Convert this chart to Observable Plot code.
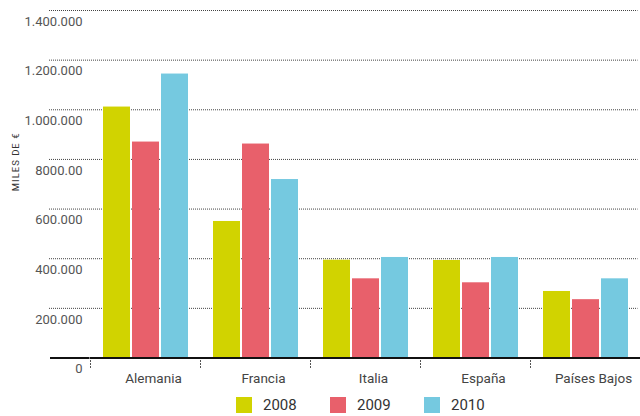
<!DOCTYPE html>
<html><head><meta charset="utf-8">
<script src="https://cdn.jsdelivr.net/npm/d3@7"></script>
<script src="https://cdn.jsdelivr.net/npm/@observablehq/plot@0.6"></script>
<style>
body{margin:0;background:#fff;font-family:Roboto,sans-serif;}
#legend{display:flex;padding:4px 0 0 236px;}
.item{display:inline-flex;align-items:center;width:94px;font-size:15px;color:#333;}
.sw{width:16px;height:16px;margin-right:11px;flex:none;}
.ylab{letter-spacing:1px;}
</style></head><body><div id="chart"></div><div id="legend"></div>
<script>
const countries = ["Alemania", "Francia", "Italia", "España", "Países Bajos"];
const years = ["2008", "2009", "2010"];
const v2008 = [1011000, 550000, 394000, 393000, 268000];
const v2009 = [870000, 862000, 319000, 303000, 235000];
const v2010 = [1144000, 719000, 405000, 405000, 319000];
const colors = ["#d1d300", "#e8606b", "#75c9e0"];
const yTicks = [0, 200000, 400000, 600000, 800000, 1000000, 1200000, 1400000];
const yTickLabels = ["0", "200.000", "400.000", "600.000", "8000.00", "1.000.000", "1.200.000", "1.400.000"];
const yLabel = "MILES DE €";

const series = [v2008, v2009, v2010];
const data = countries.flatMap((c, i) => years.map((y, j) => ({country: c, year: y, value: series[j][i]})));

const W = 640, H = 392, mL = 89, mR = -1.5, mT = 10, mB = 34.5;
const facetW = (W - mL - mR) / countries.length;
const gridL = 48, gridR = 637, baseL = 49;

const plot = Plot.plot({
  width: W, height: H,
  marginLeft: mL, marginRight: mR, marginTop: mT, marginBottom: mB,
  style: {fontFamily: "Roboto, sans-serif", background: "#fff", overflow: "visible"},
  fx: {domain: countries, padding: 0},
  x: {domain: years, paddingInner: 0.075, paddingOuter: 0.41, axis: null},
  y: {domain: [0, 1400000], axis: null},
  color: {domain: years, range: colors},
  marks: [
    Plot.ruleY(yTicks.filter(d => d > 0), {facetAnchor: "left", stroke: "#444", strokeDasharray: "1,1",
      insetLeft: gridL - mL, insetRight: mL + facetW - gridR}),
    Plot.barY(data, {fx: "country", x: "year", y: "value", fill: "year"}),
    Plot.ruleY([0], {stroke: "#111", strokeWidth: 2}),
    Plot.ruleY([0], {facetAnchor: "left", stroke: "#111", strokeWidth: 2, insetLeft: baseL - mL, insetRight: facetW}),
    Plot.frame({anchor: "left", stroke: "#555", strokeDasharray: "1,2", insetTop: 360 - mT, insetBottom: (H - mB) - 369}),
    Plot.axisY({ticks: yTicks, tickFormat: d => yTickLabels[yTicks.indexOf(d)], tickSize: 0, tickPadding: 8,
      dy: 11, fontSize: 13, fill: "#555", label: null}),
    Plot.axisFx({anchor: "bottom", tickSize: 0, tickPadding: 15, dx: 8, fontSize: 13.5, fill: "#444", label: null}),
    Plot.text([yLabel], {frameAnchor: "left", facetAnchor: "left", rotate: -90, dx: 14 - mL, dy: 7,
      fontSize: 9.5, fill: "#333", className: "ylab"})
  ]
});
document.getElementById("chart").appendChild(plot);

const cs = plot.scale("color");
const legend = document.getElementById("legend");
cs.domain.forEach((d, i) => {
  const item = document.createElement("div");
  item.className = "item";
  const sw = document.createElement("div");
  sw.className = "sw";
  sw.style.background = cs.range[i];
  item.appendChild(sw);
  item.appendChild(document.createTextNode(d));
  legend.appendChild(item);
});
</script></body></html>
